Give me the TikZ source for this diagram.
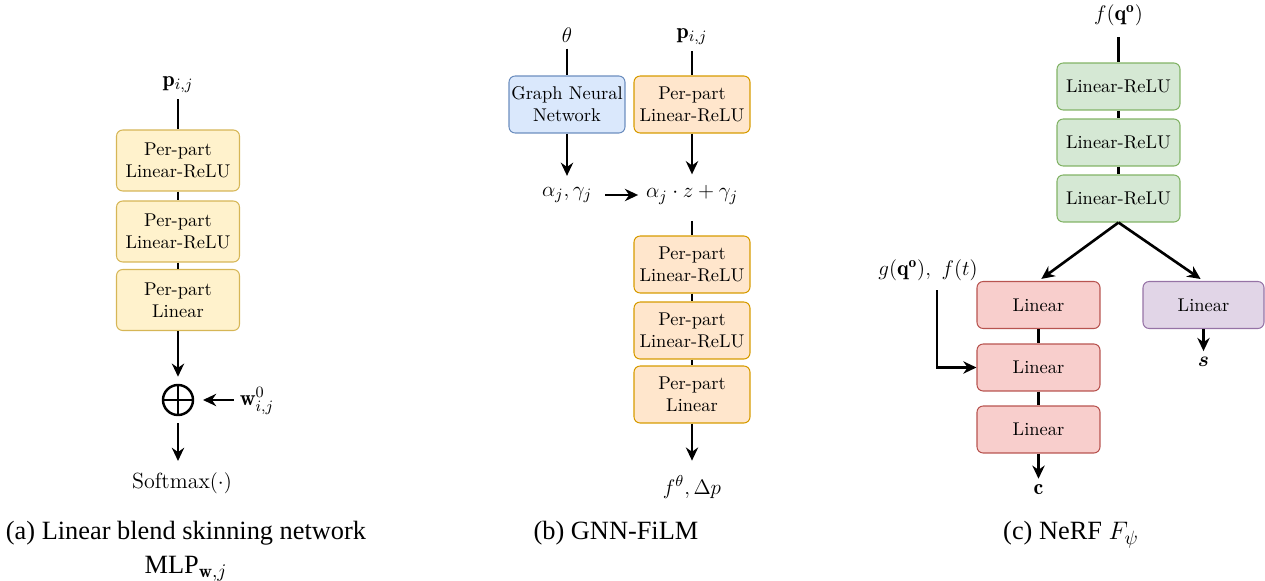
\documentclass[tikz,border=0pt]{standalone}
\usepackage{amsmath,amssymb,bm}
\usepackage{fontspec}
\newfontfamily\capfont{Liberation Serif}
\usetikzlibrary{arrows.meta}

% box colours
\definecolor{lbsfill}{HTML}{FFF2CC}
\definecolor{lbsline}{HTML}{D6B656}
\definecolor{filmfill}{HTML}{FFE6CC}
\definecolor{filmline}{HTML}{D79B00}
\definecolor{gnnfill}{HTML}{DAE8FC}
\definecolor{gnnline}{HTML}{6C8EBF}
\definecolor{relufill}{HTML}{D5E8D4}
\definecolor{reluline}{HTML}{82B366}
\definecolor{rgbfill}{HTML}{F8CECC}
\definecolor{rgbline}{HTML}{B85450}
\definecolor{sigfill}{HTML}{E1D5E7}
\definecolor{sigline}{HTML}{9673A6}

\begin{document}
\begin{tikzpicture}[
    x=0.02cm, y=-0.02cm,   % one unit per pixel, y going down
    blok/.style={draw, rounded corners=3.5pt, align=center, inner sep=0pt, line width=0.6pt,
                 font=\fontsize{10.5}{12.5}\selectfont},
    lbs/.style={blok, fill=lbsfill, draw=lbsline, minimum width=2.46cm, minimum height=1.22cm},
    film/.style={blok, fill=filmfill, draw=filmline, minimum width=2.32cm, minimum height=1.14cm},
    gnn/.style={film, fill=gnnfill, draw=gnnline},
    relu/.style={blok, fill=relufill, draw=reluline, minimum width=2.46cm, minimum height=0.94cm},
    rgb/.style={relu, fill=rgbfill, draw=rgbline},
    sig/.style={relu, fill=sigfill, draw=sigline, minimum width=2.42cm},
    lab/.style={font=\fontsize{12.5}{14}\selectfont},
    lin/.style={line width=1.5pt},
    arr/.style={lin, -{Stealth[length=7.5pt,width=7pt]}},
    oplus/.style={circle, draw, line width=1.4pt, minimum size=0.6cm, inner sep=0pt,
                  path picture={\draw[line width=1.4pt]
                    (path picture bounding box.north) -- (path picture bounding box.south)
                    (path picture bounding box.west) -- (path picture bounding box.east);}},
    subcap/.style={font=\capfont\fontsize{15}{19.5}\selectfont, align=center, inner sep=0pt, anchor=north}
]
    \useasboundingbox (0,0) rectangle (1265,581);

    % ---- (a) skinning MLP ----
    \node[lab] (pa) at (178,85) {$\mathbf{p}_{i,j}$};
    \node[lbs] (a1) at (178,160.5) {Per-part\\Linear-ReLU};
    \node[lbs] (a2) at (178,231.5) {Per-part\\Linear-ReLU};
    \node[lbs] (a3) at (178,300) {Per-part\\Linear};
    \node[oplus] (plus) at (178,400) {};
    \node[lab] (w0) at (257,401) {$\mathbf{w}^0_{i,j}$};
    \node[lab] (sm) at (182,483) {$\mathrm{Softmax}(\cdot)$};

    \draw[lin] (pa) -- (a1);
    \draw[lin] (a1) -- (a2);
    \draw[lin] (a2) -- (a3);
    \draw[arr, shorten >=4pt] (a3) -- (plus);
    \draw[arr, shorten >=5pt] (w0.west |- plus) -- (plus);
    \draw[arr, shorten <=4pt, shorten >=3pt] (plus) -- (plus |- sm.north);

    % ---- (b) FiLM conditioning ----
    \node[lab] (th) at (567,35) {$\theta$};
    \node[lab] (pb) at (692,37) {$\mathbf{p}_{i,j}$};
    \node[gnn] (gn) at (567,104.5) {Graph Neural\\Network};
    \node[film] (b0) at (692,104.5) {Per-part\\Linear-ReLU};
    \node[lab] (ag) at (567,195) {$\alpha_j,\gamma_j$};
    \node[lab] (mod) at (692,195) {$\alpha_j\cdot z+\gamma_j$};
    \node[film] (b1) at (692,264.5) {Per-part\\Linear-ReLU};
    \node[film] (b2) at (692,330.5) {Per-part\\Linear-ReLU};
    \node[film] (b3) at (692,394.5) {Per-part\\Linear};
    \node[lab] (fo) at (692,487) {$f^\theta,\Delta p$};

    \draw[lin] (th) -- (gn);
    \draw[lin] (pb) -- (b0);
    \draw[arr, shorten >=3pt] (gn) -- (ag);
    \draw[arr, shorten >=3pt] (b0) -- (mod);
    \draw[arr, shorten <=4pt, shorten >=1pt] (ag) -- (mod);
    \draw[lin, shorten <=6pt] (mod) -- (b1);
    \draw[lin] (b1) -- (b2);
    \draw[lin] (b2) -- (b3);
    \draw[arr, shorten >=5pt] (b3) -- (fo);

    % ---- (c) NeRF ----
    \node[lab] (fq) at (1118.5,15) {$f(\mathbf{q}^{\mathbf{o}})$};
    \node[relu] (g1) at (1118.5,86.5) {Linear-ReLU};
    \node[relu] (g2) at (1118.5,142.5) {Linear-ReLU};
    \node[relu] (g3) at (1118.5,198.5) {Linear-ReLU};
    \node[rgb] (r1) at (1038.5,305) {Linear};
    \node[rgb] (r2) at (1038.5,367.5) {Linear};
    \node[rgb] (r3) at (1038.5,429.5) {Linear};
    \node[sig] (pu) at (1203.5,305) {Linear};
    \node[lab] (gft) at (928,270) {$g(\mathbf{q}^{\mathbf{o}}),\ f(t)$};
    \node[lab] (so) at (1203.5,362) {$\bm{s}$};
    \node[lab] (co) at (1038.5,490) {$\mathbf{c}$};
    \coordinate (gin) at (937,290);

    \draw[lin, shorten <=3pt] (fq) -- (g1);
    \draw[lin] (g1) -- (g2);
    \draw[lin] (g2) -- (g3);
    \draw[arr, shorten >=2pt] (g3.south) -- (r1.north);
    \draw[arr, shorten >=2pt] (g3.south) -- (pu.north);
    \draw[arr] (pu) -- (so);
    \draw[lin] (r1) -- (r2);
    \draw[lin] (r2) -- (r3);
    \draw[arr] (r3) -- (co);
    \draw[arr] (gin) |- (r2.west);

    % ---- captions ----
    \node[subcap] (capa) at (186,521) {(a) Linear blend skinning network\\MLP$_{\mathbf{w},j}$};
    \node[subcap] (capb) at (616,521) {(b) GNN-FiLM};
    \node[subcap] (capc) at (1071,521) {(c) NeRF $F_\psi$};
\end{tikzpicture}
\end{document}
